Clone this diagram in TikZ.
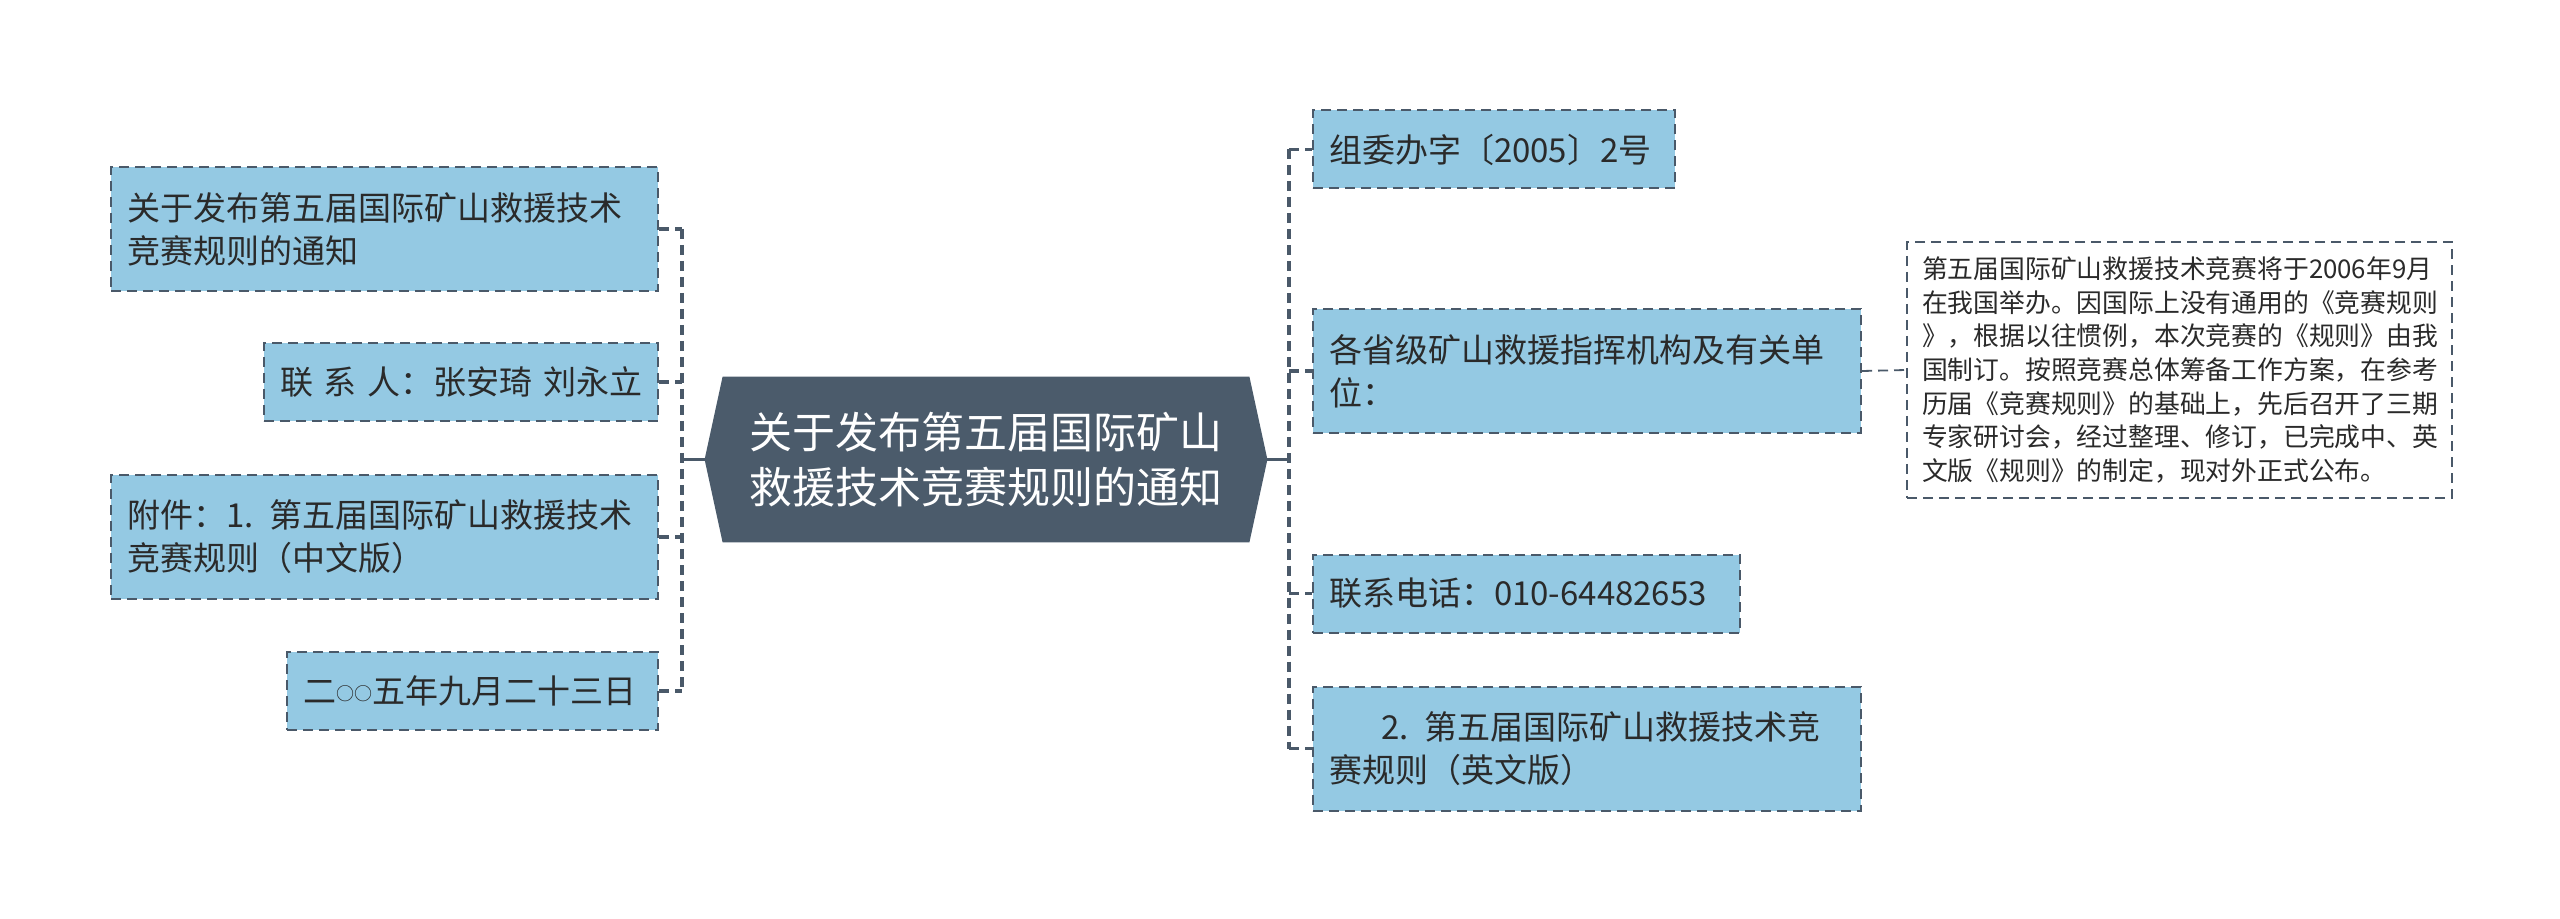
\documentclass[tikz,border=0pt]{standalone}
\usepackage{fontspec}
\setmainfont{Noto Sans CJK SC}
\usetikzlibrary{calc,backgrounds}
\definecolor{boxfill}{HTML}{94C9E3}
\definecolor{edgec}{HTML}{4A5969}
\definecolor{cfill}{HTML}{4B5B6B}
\definecolor{txt}{HTML}{2A2A2A}
\begin{document}
\begin{tikzpicture}[x=0.5pt,y=-0.5pt,
  box/.style={draw=edgec, fill=boxfill, dash pattern=on 5pt off 3pt, line width=1pt,
    text=txt, font=\fontsize{16.5}{21.5}\selectfont, align=left, inner xsep=8pt, inner ysep=0pt},
  detail/.style={draw=edgec, fill=white, dash pattern=on 5pt off 3pt, line width=0.8pt,
    text=txt, font=\fontsize{12.9}{16.8}\selectfont, align=left, inner xsep=7.5pt, inner ysep=0pt},
  central/.style={text=white, font=\fontsize{21.5}{27.5}\selectfont, align=center, inner sep=0pt},
  conn/.style={draw=edgec, line width=1.6pt, dash pattern=on 5pt off 3pt},
  thinconn/.style={draw=edgec, line width=0.9pt, dash pattern=on 5pt off 3pt},
  solidconn/.style={draw=edgec, line width=1.5pt}
]
\useasboundingbox (0,0) rectangle (2560,919);

% central node
\node[central, minimum width=263pt, minimum height=82.5pt] (C) at (986,459.5)
  {关于发布第五届国际矿山\\救援技术竞赛规则的通知};
\begin{scope}[on background layer]
  \fill[cfill] (C.north west) -- (C.north east) -- ($(C.east)+(18,0)$) -- (C.south east)
    -- (C.south west) -- ($(C.west)+(-18,0)$) -- cycle;
\end{scope}
\coordinate (Cw) at ($(C.west)+(-18,0)$);
\coordinate (Ce) at ($(C.east)+(18,0)$);

% left nodes
\node[box, minimum width=273.5pt, text width=257.5pt, minimum height=62pt] (L1) at (384.5,229)
  {\mbox{关于发布第五届国际矿山救援技术}\\\mbox{竞赛规则的通知}};
\node[box, minimum width=197pt, text width=181pt, minimum height=39pt] (L2) at (461,382)
  {\mbox{联 系 人：张安琦 刘永立}};
\node[box, minimum width=273.5pt, text width=257.5pt, minimum height=62pt] (L3) at (384.5,537)
  {\mbox{附件：1. 第五届国际矿山救援技术}\\\mbox{竞赛规则（中文版）}};
\node[box, minimum width=185.5pt, text width=169.5pt, minimum height=39pt] (L4) at (472.5,691)
  {\mbox{二\raisebox{1.5pt}{\fontsize{9}{9}\selectfont ○○}五年九月二十三日}};

% right nodes
\node[box, minimum width=181pt, text width=165pt, minimum height=39pt] (R1) at (1494,149.5)
  {\mbox{组委办字〔2005〕2号}};
\node[box, minimum width=274pt, text width=258pt, minimum height=62pt] (R2) at (1587,371)
  {\mbox{各省级矿山救援指挥机构及有关单}\\\mbox{位：}};
\node[box, minimum width=213.5pt, text width=197.5pt, minimum height=39pt] (R3) at (1526.5,593.5)
  {\mbox{联系电话：010-64482653}};
\node[box, minimum width=274pt, text width=258pt, minimum height=62pt] (R4) at (1587,748.5)
  {\mbox{\hspace*{26pt}2. 第五届国际矿山救援技术竞}\\\mbox{赛规则（英文版）}};

% detail node
\node[detail, minimum width=272.5pt, text width=257.5pt, minimum height=128pt] (D) at (2179.5,370)
  {\mbox{第五届国际矿山救援技术竞赛将于2006年9月}\\
   \mbox{在我国举办。因国际上没有通用的《竞赛规则}\\
   \mbox{》，根据以往惯例，本次竞赛的《规则》由我}\\
   \mbox{国制订。按照竞赛总体筹备工作方案，在参考}\\
   \mbox{历届《竞赛规则》的基础上，先后召开了三期}\\
   \mbox{专家研讨会，经过整理、修订，已完成中、英}\\
   \mbox{文版《规则》的制定，现对外正式公布。}};

% trunks
\coordinate (LT) at (682,459.5);
\coordinate (RT) at (1289,459.5);

\draw[solidconn] (Cw) -- (LT);
\draw[solidconn] (Ce) -- (RT);

\draw[conn] (L1.east -| LT) -- (L4.east -| LT);
\draw[conn] (L1.east) -- (L1.east -| LT);
\draw[conn] (L2.east) -- (L2.east -| LT);
\draw[conn] (L3.east) -- (L3.east -| LT);
\draw[conn] (L4.east) -- (L4.east -| LT);

\draw[conn] (R1.west -| RT) -- (R4.west -| RT);
\draw[conn] (R1.west -| RT) -- (R1.west);
\draw[conn] (R2.west -| RT) -- (R2.west);
\draw[conn] (R3.west -| RT) -- (R3.west);
\draw[conn] (R4.west -| RT) -- (R4.west);

\draw[thinconn] (R2.east) -- (D.west);
\end{tikzpicture}
\end{document}
